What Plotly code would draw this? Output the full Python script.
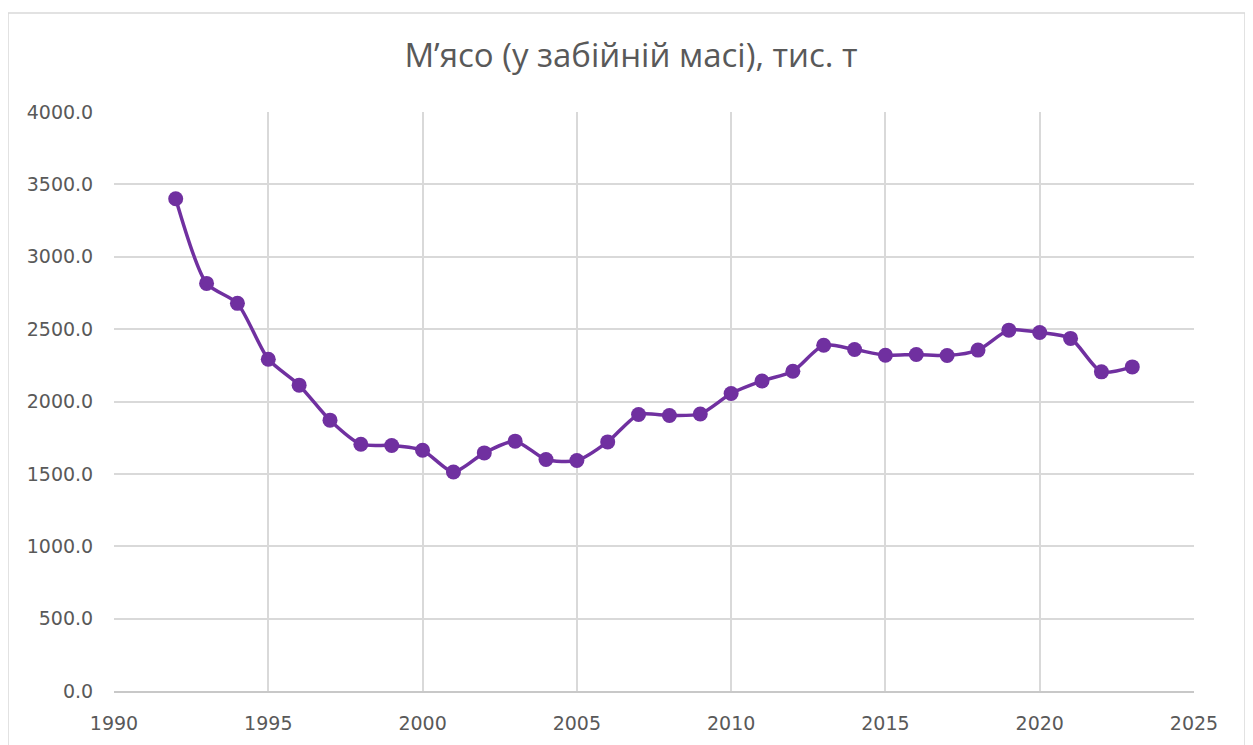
import plotly.graph_objects as go

years = list(range(1992, 2024))
meat = [3401, 2816, 2678, 2292, 2113, 1871, 1705, 1696, 1663, 1513,
        1645, 1726, 1599, 1592, 1721, 1910, 1903, 1914, 2055, 2142,
        2209, 2389, 2359, 2320, 2325, 2318, 2355, 2493, 2477, 2436,
        2205, 2239]

title_text = "М’ясо (у забійній масі), тис. т"
x_ticks = [1990, 1995, 2000, 2005, 2010, 2015, 2020, 2025]
y_ticks = [0, 500, 1000, 1500, 2000, 2500, 3000, 3500, 4000]

W, H = 1245, 737
L, T, R, B = 106, 104, 59, 54
pw, ph = W - L - R, H - T - B

fig = go.Figure()
fig.add_trace(go.Scatter(
    x=years, y=meat, mode="lines+markers",
    line=dict(color="#7030A0", width=3.5, shape="spline", smoothing=0.7),
    marker=dict(color="#7030A0", size=15),
    showlegend=False,
))

grid = "#d9d9d9"
tick_font = dict(family="DejaVu Sans", size=19, color="#595959")
fig.update_layout(
    width=W, height=H,
    margin=dict(l=L, r=R, t=T, b=B),
    paper_bgcolor="white", plot_bgcolor="white",
    title=dict(text=title_text, x=(631 - 8) / W, xanchor="center",
               y=1 - (55 - 8) / H, yanchor="middle",
               font=dict(family="Open Sans", size=33, color="#595959")),
    font=dict(family="Open Sans", color="#595959"),
    xaxis=dict(range=[1990, 2025], tickvals=x_ticks, showgrid=True, gridcolor=grid,
               gridwidth=1.5, showline=True, linecolor="#c8c8c8", linewidth=1.5,
               zeroline=False, ticks="", ticklabelstandoff=14,
               tickfont=tick_font),
    yaxis=dict(range=[0, 4000], tickvals=y_ticks, tickformat=".1f", showgrid=True,
               gridcolor=grid, gridwidth=1.5, showline=False, zeroline=False,
               ticks="outside", ticklen=16, tickcolor="rgba(0,0,0,0)",
               tickfont=tick_font),
    shapes=[dict(type="rect", xref="paper", yref="paper",
                 x0=(0 - L) / pw, x1=(1237 - L) / pw,
                 y0=(T + ph - 760) / ph, y1=(T + ph - 5) / ph,
                 line=dict(color="#d9d9d9", width=1.5), fillcolor="rgba(0,0,0,0)",
                 layer="below")],
)

fig.write_html("out.html")
